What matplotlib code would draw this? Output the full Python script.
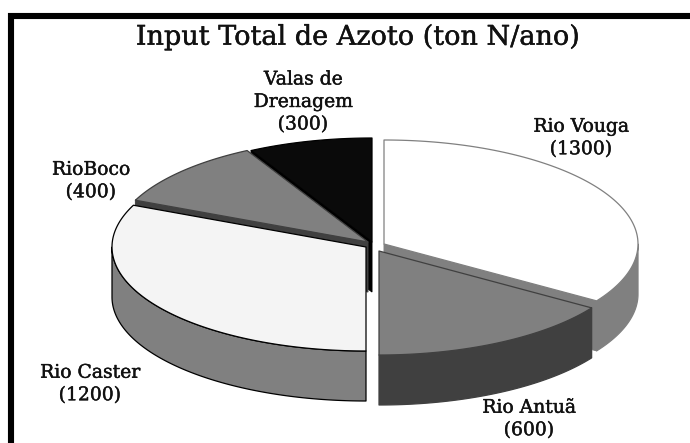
import numpy as np
import matplotlib
matplotlib.use('Agg')
import matplotlib.pyplot as plt
import matplotlib.patheffects as pe
from matplotlib.patches import Polygon

# dados
nomes = ['Rio Vouga', 'Rio Antuã', 'Rio Caster', 'RioBoco', 'Valas de\nDrenagem']
valores = [1300, 600, 1200, 400, 300]

# estilo de cada fatia
cor_topo = ['#ffffff', '#808080', '#f4f4f4', '#808080', '#0a0a0a']
cor_lado = ['#808080', '#404040', '#808080', '#404040', '#000000']
cor_linha = ['#808080', '#404040', '#000000', '#404040', '#000000']
centros = [(384, 244), (379, 251), (366, 247), (368, 242), (372, 242)]
pos_texto = [(581, 138), (529, 419), (90, 384), (91, 181), (303, 102)]

A = 254
B = 104
ALTURA = 50

angulos = np.concatenate([[0], np.cumsum(valores) / np.sum(valores) * 360])


def arco(cx, cy, a1, a2):
    t = np.radians(np.linspace(a1, a2, 120))
    return np.column_stack([cx + A * np.sin(t), cy - B * np.cos(t)])


def desce(pts):
    return pts + np.array([0, ALTURA])


fig = plt.figure(figsize=(6.9, 4.43), dpi=100)
ax = fig.add_axes([0, 0, 1, 1])
ax.set_xlim(0, 690)
ax.set_ylim(443, 0)
ax.axis('off')

# moldura (so topo e lado esquerdo)
ax.plot([8, 690], [16, 16], color='black', lw=4.4, solid_capstyle='butt')
ax.plot([11, 11], [13, 443], color='black', lw=4.4, solid_capstyle='butt')


def lateral(i):
    # parede exterior, so a parte virada para a frente
    a1 = max(angulos[i], 90)
    a2 = min(angulos[i + 1], 270)
    if a2 <= a1:
        return
    pts = arco(*centros[i], a1, a2)
    ax.add_patch(Polygon(np.vstack([pts, desce(pts)[::-1]]), fc=cor_lado[i],
                         ec=cor_linha[i], lw=0.9, joinstyle='round'))


def corte(i, ang):
    # parede do corte radial
    cx, cy = centros[i]
    p = arco(cx, cy, ang, ang)[:2]
    pts = np.array([[cx, cy], p[0]])
    ax.add_patch(Polygon(np.vstack([pts, desce(pts)[::-1]]), fc=cor_lado[i],
                         ec=cor_linha[i], lw=0.7))


def topo(i):
    cx, cy = centros[i]
    pts = arco(cx, cy, angulos[i], angulos[i + 1])
    ax.add_patch(Polygon(np.vstack([[cx, cy], pts]), fc=cor_topo[i],
                         ec=cor_linha[i], lw=0.9, joinstyle='round'))


# de tras para a frente
corte(4, angulos[4])
corte(3, angulos[3])
topo(3)
topo(4)
lateral(2)
topo(2)

corte(0, angulos[1])
lateral(0)
topo(0)
lateral(1)
topo(1)

# traco um pouco mais grosso, como no original
grosso = [pe.withStroke(linewidth=0.3, foreground='#111111')]

ax.text(358, 37, 'Input Total de Azoto (ton N/ano)', family='DejaVu Serif',
        fontsize=19.5, ha='center', va='center', color='#111111', path_effects=grosso)

for nome, v, (x, y) in zip(nomes, valores, pos_texto):
    ax.text(x, y, f'{nome}\n({v})', family='DejaVu Serif', fontsize=13.5,
            ha='center', va='center', linespacing=1.32, color='#111111', path_effects=grosso)

fig.savefig('out.png', dpi=100)
